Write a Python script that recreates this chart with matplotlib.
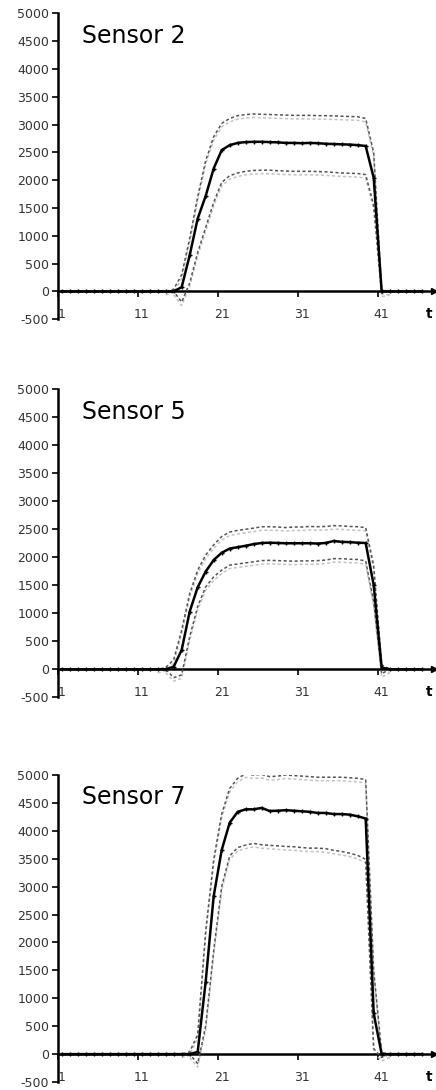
import numpy as np
import matplotlib
matplotlib.use("Agg")
import matplotlib.pyplot as plt
import matplotlib.transforms as mtransforms

t = np.arange(1, 47)

sensors = ["Sensor 2", "Sensor 5", "Sensor 7"]

# mean response per sensor
mean2 = [0, 0, 0, 0, 0, 0, 0, 0, 0, 0, 0, 0, 0, 0, 0, 77, 650, 1310, 1716, 2210,
         2540, 2630, 2670, 2685, 2690, 2690, 2685, 2680, 2670, 2670, 2665, 2670, 2665, 2655, 2650,
         2645, 2640, 2630, 2615, 2045, 0, 0, 0, 0, 0, 0]
mean5 = [0, 0, 0, 0, 0, 0, 0, 0, 0, 0, 0, 0, 0, 0, 46, 345, 1030, 1465, 1745, 1950,
         2080, 2155, 2180, 2205, 2235, 2255, 2260, 2255, 2250, 2250, 2250, 2250, 2245, 2255, 2290,
         2275, 2270, 2260, 2255, 1505, 30, 0, 0, 0, 0, 0]
mean7 = [0, 0, 0, 0, 0, 0, 0, 0, 0, 0, 0, 0, 0, 0, 0, 0, 0, 40, 1300, 2830,
         3655, 4145, 4340, 4385, 4385, 4410, 4355, 4360, 4370, 4360, 4350, 4340, 4320, 4320, 4300,
         4300, 4290, 4260, 4220, 730, 0, 0, 0, 0, 0, 0]

# upper band (dashed)
upper2 = [0, 0, 0, 0, 0, 0, 0, 0, 0, 0, 0, 0, 0, 0, 40, 300, 950, 1700, 2350, 2780,
          3020, 3110, 3160, 3180, 3190, 3185, 3180, 3175, 3170, 3165, 3165, 3165, 3160, 3160, 3155,
          3150, 3145, 3140, 3110, 2500, 20, 0, 0, 0, 0, 0]
upper5 = [0, 0, 0, 0, 0, 0, 0, 0, 0, 0, 0, 0, 0, 30, 170, 700, 1350, 1770, 2040, 2220,
          2370, 2450, 2480, 2500, 2520, 2545, 2545, 2540, 2530, 2540, 2540, 2550, 2545, 2550, 2565,
          2560, 2550, 2545, 2530, 1850, 80, 0, 0, 0, 0, 0]
upper7 = [0, 0, 0, 0, 0, 0, 0, 0, 0, 0, 0, 0, 0, 0, 0, 0, 40, 350, 2200, 3480,
          4300, 4760, 4940, 5020, 5000, 5010, 4970, 4980, 5000, 4990, 4980, 4970, 4960, 4960, 4960,
          4960, 4950, 4940, 4920, 1500, 30, 0, 0, 0, 0, 0]

# lower band (dashed)
lower2 = [0, 0, 0, 0, 0, 0, 0, 0, 0, 0, 0, 0, 0, 0, 0, -190, 150, 700, 1150, 1600,
          1960, 2080, 2130, 2160, 2175, 2180, 2180, 2170, 2165, 2160, 2160, 2160, 2155, 2150, 2140,
          2130, 2125, 2120, 2100, 1550, -30, 0, 0, 0, 0, 0]
lower5 = [0, 0, 0, 0, 0, 0, 0, 0, 0, 0, 0, 0, 0, 0, -150, -100, 580, 1120, 1470, 1650,
          1770, 1860, 1880, 1900, 1920, 1940, 1945, 1940, 1935, 1930, 1935, 1935, 1940, 1950, 1975,
          1975, 1965, 1960, 1935, 1200, -80, 0, 0, 0, 0, 0]
lower7 = [0, 0, 0, 0, 0, 0, 0, 0, 0, 0, 0, 0, 0, 0, 0, 0, 0, -170, 500, 1850,
          3000, 3550, 3700, 3745, 3775, 3750, 3740, 3730, 3720, 3715, 3700, 3690, 3690, 3680, 3650,
          3630, 3600, 3560, 3490, 100, -60, 0, 0, 0, 0, 0]

means = [mean2, mean5, mean7]
uppers = [upper2, upper5, upper7]
lowers = [lower2, lower5, lower7]

xlabels = [1, 11, 21, 31, 41]
yticks = np.arange(-500, 5001, 500)

# axes boxes in figure fraction (left, bottom, width, height)
boxes = [(0.1323, 0.7071, 0.8642, 0.2807),
         (0.1323, 0.3603, 0.8642, 0.2826),
         (0.1323, 0.0073, 0.8642, 0.2817)]


def active_part(vals):
    # hide the flat zero stretches (they sit under the axis anyway)
    v = np.array(vals, dtype=float)
    nz = v != 0
    keep = nz | np.roll(nz, 1) | np.roll(nz, -1)
    v[~keep] = np.nan
    return v


fig = plt.figure(figsize=(4.36, 10.9), dpi=100)

for i in range(3):
    ax = fig.add_axes(boxes[i])
    ax.set_xlim(0.5, 47.6)
    ax.set_ylim(-500, 5000)

    # light "shadow" copy of the band lines, a few px below
    shadow = mtransforms.offset_copy(ax.transData, fig=fig, x=0, y=-3.5, units="dots")
    for band in (uppers[i], lowers[i]):
        ax.plot(t, active_part(band), color="#c4c4c4", lw=1.1, dashes=(2, 1.6),
                transform=shadow, zorder=2)
        ax.plot(t, band, color="#555555", lw=1.1, dashes=(2, 1.6), zorder=3)

    ax.plot(t, means[i], color="black", lw=1.8, marker="+", ms=3.5, mew=1, zorder=4)

    for s in ("top", "right"):
        ax.spines[s].set_visible(False)
    ax.spines["left"].set_linewidth(1.8)
    ax.spines["bottom"].set_linewidth(1.8)
    ax.spines["bottom"].set_position(("data", 0))
    ax.plot(1, 0, ">k", ms=4, transform=ax.get_yaxis_transform(), clip_on=False, zorder=5)

    ax.set_yticks(yticks)
    ax.set_yticklabels([str(v) for v in yticks], fontsize=9, color="#333333")
    ax.tick_params(axis="y", direction="out", length=4, width=1.2, pad=2)

    ax.set_xticks([v - 0.5 for v in xlabels])
    ax.set_xticklabels([])
    ax.tick_params(axis="x", direction="out", length=4, width=1.2)
    for v in xlabels:
        ax.text(v, -410, str(v), ha="center", va="center", fontsize=9, color="#333333")
    ax.text(47.0, -410, "t", ha="center", va="center", fontsize=10, fontweight="bold")

    ax.text(3.5, 4600, sensors[i], ha="left", va="center", fontsize=17, family="DejaVu Sans")

fig.savefig("out.png", dpi=100)
